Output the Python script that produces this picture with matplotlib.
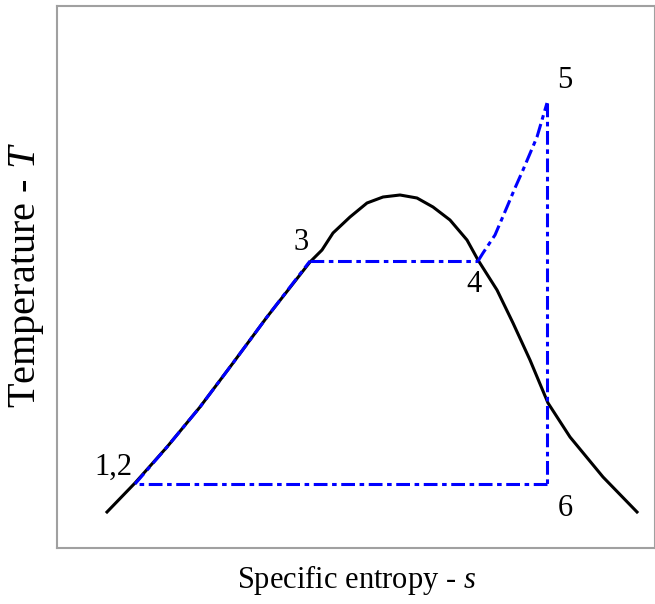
import matplotlib.pyplot as plt

plt.rcParams['font.family'] = ['Liberation Serif', 'DejaVu Serif']
plt.rcParams['mathtext.fontset'] = 'custom'
plt.rcParams['mathtext.it'] = 'Liberation Serif:italic'
plt.rcParams['mathtext.rm'] = 'Liberation Serif'

# saturation dome
dome_s = [50, 78, 110, 143, 176, 210, 253, 265, 276, 293, 310, 326, 343, 360, 376, 393, 410,
          421, 440, 456, 473, 491, 513, 546, 580]
dome_T = [36, 65, 101, 141, 185, 231, 286, 298, 315, 331, 345, 351, 353, 350, 341, 328, 308,
          288, 258, 225, 188, 145, 111, 71, 36]

# cycle states
s1, T1 = 78, 64
s3, T3 = 253, 287
s4, T4 = 421, 287
s5, T5 = 490, 445
s6, T6 = 490, 64

# 1 -> 3 along the liquid line
liq_s = [78, 110, 143, 176, 210, 253]
liq_T = [64, 101, 141, 185, 231, 287]

# 4 -> 5 superheat
sup_s = [421, 426, 438, 450, 458, 466, 480, 490]
sup_T = [287, 295, 313, 341, 360, 378, 411, 445]

labels = ["1,2", "3", "4", "5", "6"]

fig = plt.figure(figsize=(6.55, 6.04), dpi=100)
ax = fig.add_axes([57 / 655, 56 / 604, 598 / 655, 542 / 604])

ax.plot(dome_s, dome_T, color='black', lw=2.2)

blue = dict(color='blue', lw=2.2, dashes=(4.5, 1.5, 1.5, 1.5))
ax.plot(liq_s, liq_T, **blue)
ax.plot([s3, s4], [T3, T4], **blue)
ax.plot(sup_s, sup_T, **blue)
ax.plot([s5, s6], [T5, T6], **blue)
ax.plot([s6, s1], [T6, T1], **blue)

fs = 22
ax.text(75, 81, labels[0], fontsize=fs, ha='right', va='center')
ax.text(244, 305, labels[1], fontsize=fs, ha='center', va='center')
ax.text(417, 264, labels[2], fontsize=fs, ha='center', va='center')
ax.text(508, 468, labels[3], fontsize=fs, ha='center', va='center')
ax.text(508, 40, labels[4], fontsize=fs, ha='center', va='center')

ax.set_xlim(0, 598)
ax.set_ylim(0, 542)
ax.set_xticks([])
ax.set_yticks([])
for sp in ax.spines.values():
    sp.set_color('#a0a0a0')
    sp.set_linewidth(1.5)

fig.text(357 / 655, 1 - 580 / 604, "Specific entropy - $s$", fontsize=22,
         ha='center', va='center')
fig.text(27 / 655, 1 - 275 / 604, "Temperature - $T$", fontsize=29,
         ha='center', va='center', rotation=90)

fig.savefig("out.png", dpi=100)
